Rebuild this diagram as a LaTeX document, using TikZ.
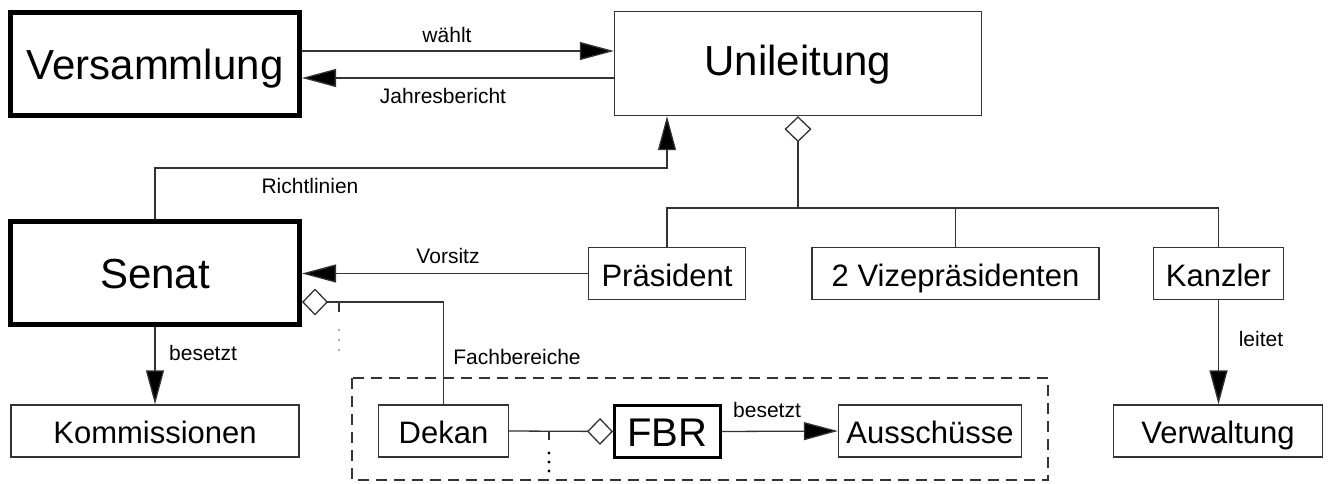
\documentclass[tikz,border=0pt]{standalone}
\usepackage{fontspec}
\setmainfont{Liberation Sans}
\usetikzlibrary{arrows.meta}
\newcommand\bigf{\fontsize{42}{48}\selectfont}
\newcommand\fbrf{\fontsize{40}{46}\selectfont}
\newcommand\medf{\fontsize{31}{36}\selectfont}
\newcommand\smlf{\fontsize{21}{25}\selectfont}
\tikzset{
  box/.style={draw=black!80, line width=1.3pt, inner sep=0pt, font=\medf, minimum height=52pt, text height=25pt, text depth=0pt},
  thickbox/.style={draw=black, line width=5pt, inner sep=0pt, font=\bigf, text depth=0pt},
  lbl/.style={font=\smlf, inner sep=0pt},
  conn/.style={draw=black!80, line width=1.3pt},
  arr/.style={conn, -{Triangle[length=34pt,width=18pt,fill=black]}},
  dia/.tip={Diamond[open,length=26pt,width=27pt]},
}
\begin{document}
\begin{tikzpicture}[x=1pt,y=-1pt]
\useasboundingbox (0,0) rectangle (1330,484);
% nodes
\node[thickbox, minimum width=289pt, minimum height=103pt, text height=32pt] (V) at (155,64) {Versammlung};
\node[draw=black!80, line width=1.3pt, inner sep=0pt, font=\bigf, minimum width=367pt, minimum height=104pt, text height=25pt, text depth=0pt] (U) at (798,63.5) {Unileitung};
\node[thickbox, minimum width=289pt, minimum height=103pt, text height=30pt] (S) at (155,273) {Senat};
\node[box, minimum width=157pt] (P) at (667,273.5) {Präsident};
\node[box, minimum width=287pt] (VP) at (955.5,273.5) {2 Vizepräsidenten};
\node[box, minimum width=130pt] (K) at (1218.5,273.5) {Kanzler};
\node[box, minimum width=209pt] (VW) at (1218,431) {Verwaltung};
\node[box, minimum width=288pt] (KO) at (155,431) {Kommissionen};
\node[box, minimum width=130pt] (D) at (443.5,431) {Dekan};
\node[draw=black, line width=3pt, inner sep=0pt, font=\fbrf, minimum width=106pt, minimum height=52pt, text height=29pt, text depth=0pt] (F) at (667.5,431.5) {FBR};
\node[box, minimum width=183pt] (A) at (930,431) {Ausschüsse};
% dashed frame
\draw[black!80, line width=1.3pt, dash pattern=on 11pt off 7pt] (352,378) rectangle (1048,480);
\node[lbl] (fbl) at (517,357) {Fachbereiche};
% top arrows
\draw[arr] (V.east |- 0,51) -- (U.west |- 0,51);
\node[lbl] (l1) at (447,35) {wählt};
\draw[arr] (U.west |- 0,78) -- (V.east |- 0,78);
\node[lbl] (l2) at (443,96) {Jahresbericht};
% Richtlinien
\coordinate (rt) at (667,168);
\draw[arr] (S.north) |- (rt) -- (rt |- U.south);
\node[lbl] (l3) at (310,186) {Richtlinien};
% aggregation Unileitung
\coordinate (ub) at (798,208);
\draw[conn, {dia}-] (U.south) -- (ub);
\draw[conn] (P.north) |- (K.north |- ub) -- (K.north);
\draw[conn] (VP.north) -- (VP.north |- ub);
% Vorsitz
\draw[arr] (P.west) -- (S.east |- P.west);
\node[lbl] (l4) at (448,256) {Vorsitz};
% Senat aggregation
\draw[conn, {dia}-] (S.east |- 0,302) -- (D.north |- 0,302) -- (D.north);
\draw[conn] (339,302) -- (339,312);
\foreach \yy in {330,340,350} \fill[black!70] (339,\yy) circle (0.8pt);
% Senat besetzt
\draw[arr] (S.south) -- (KO.north);
\node[lbl] (l5) at (203,353) {besetzt};
% Dekan - FBR
\draw[conn, -{dia}] (D.east) -- (F.west);
\draw[conn] (549,431) -- (549,440);
\foreach \yy in {453,462,471} \fill (549,\yy) circle (1.7pt);
% FBR besetzt
\draw[arr] (F.east) -- (A.west);
\node[lbl] (l6) at (767,410) {besetzt};
% Kanzler leitet
\draw[arr] (K.south) -- (K.south |- VW.north);
\node[lbl] (l7) at (1261,339) {leitet};
\end{tikzpicture}
\end{document}
